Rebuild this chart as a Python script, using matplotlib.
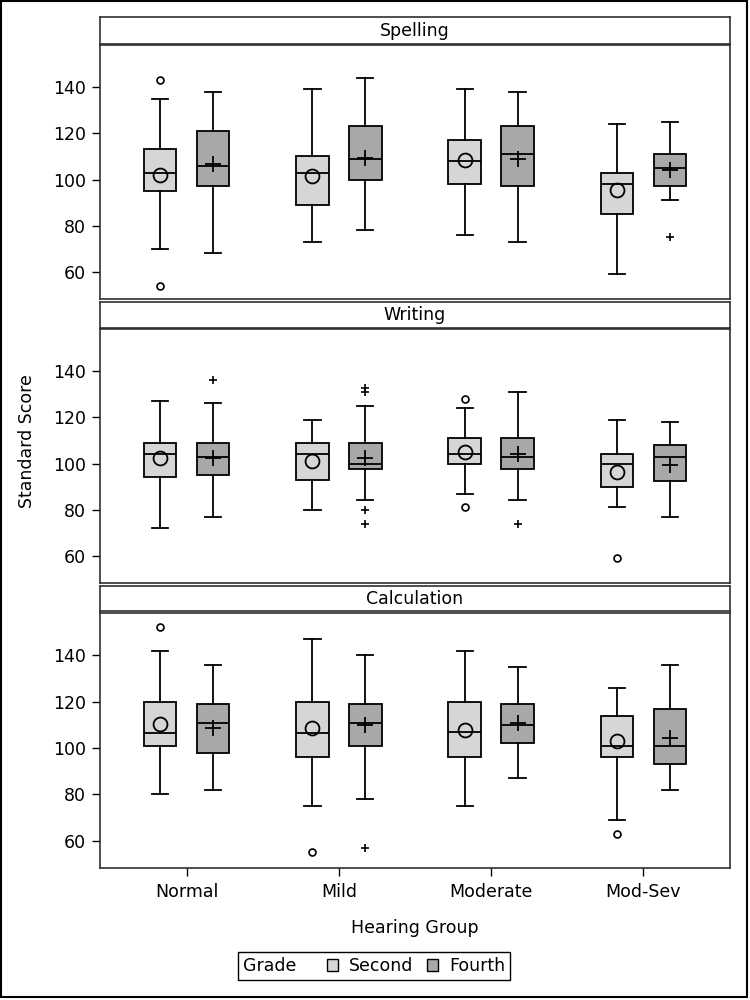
import matplotlib.pyplot as plt
from matplotlib.patches import Patch, Rectangle
from matplotlib.offsetbox import HPacker

groups = ["Normal", "Mild", "Moderate", "Mod-Sev"]
subjects = ["Spelling", "Writing", "Calculation"]

# box stats per group: whisker low, q1, median, q3, whisker high
spelling_second_box = [[70, 95, 103, 113, 135], [73, 89, 103, 110, 139],
                       [76, 98, 108, 117, 139], [59, 85, 98, 103, 124]]
spelling_second_mean = [102, 101.5, 108.5, 95.5]
spelling_second_out = [[54, 143], [], [], []]
spelling_fourth_box = [[68, 97, 106, 121, 138], [78, 100, 109, 123, 144],
                       [73, 97, 111, 123, 138], [91, 97, 105, 111, 125]]
spelling_fourth_mean = [106.5, 109.5, 109, 104]
spelling_fourth_out = [[], [], [], [75]]

writing_second_box = [[72, 94, 104, 109, 127], [80, 93, 104, 109, 119],
                      [87, 100, 104, 111, 124], [81, 90, 100, 104, 119]]
writing_second_mean = [102.2, 101, 105, 96.5]
writing_second_out = [[], [], [81, 128], [59]]
writing_fourth_box = [[77, 95, 103, 109, 126], [84, 97.5, 100, 109, 125],
                      [84, 97.5, 103, 111, 131], [77, 92.5, 103, 108, 118]]
writing_fourth_mean = [102.5, 102.5, 104, 99.5]
writing_fourth_out = [[136], [74, 80, 131, 132.5], [74], []]

calc_second_box = [[80, 101, 106.5, 120, 142], [75, 96, 106.5, 120, 147],
                   [75, 96, 107, 120, 142], [69, 96, 101, 114, 126]]
calc_second_mean = [110.5, 108.7, 107.6, 103.2]
calc_second_out = [[152], [55], [], [63]]
calc_fourth_box = [[82, 98, 111, 119, 136], [78, 101, 111, 119, 140],
                   [87, 102, 110, 119, 135], [82, 93, 101, 117, 136]]
calc_fourth_mean = [108.7, 110, 111, 104.5]
calc_fourth_out = [[], [57], [], []]

panels = [
    (spelling_second_box, spelling_second_mean, spelling_second_out,
     spelling_fourth_box, spelling_fourth_mean, spelling_fourth_out),
    (writing_second_box, writing_second_mean, writing_second_out,
     writing_fourth_box, writing_fourth_mean, writing_fourth_out),
    (calc_second_box, calc_second_mean, calc_second_out,
     calc_fourth_box, calc_fourth_mean, calc_fourth_out),
]

second_color = "#d6d6d6"
fourth_color = "#a8a8a8"


def make_stats(box, mean, out):
    stats = []
    for b, m, o in zip(box, mean, out):
        stats.append(dict(whislo=b[0], q1=b[1], med=b[2], q3=b[3], whishi=b[4],
                          mean=m, fliers=o))
    return stats


def draw_boxes(ax, stats, pos, color, mean_marker, out_marker, mean_ms, out_ms):
    ax.bxp(stats, positions=pos, widths=0.213, patch_artist=True, showmeans=True,
           manage_ticks=False,
           boxprops=dict(facecolor=color, edgecolor="black", linewidth=1.3),
           whiskerprops=dict(color="black", linewidth=1.3),
           capprops=dict(color="black", linewidth=1.3),
           medianprops=dict(color="black", linewidth=1.3),
           meanprops=dict(marker=mean_marker, markerfacecolor="none",
                          markeredgecolor="black", markersize=mean_ms,
                          markeredgewidth=1.3),
           flierprops=dict(marker=out_marker, markerfacecolor="none",
                           markeredgecolor="black", markersize=out_ms,
                           markeredgewidth=1.2))


plt.rcParams["font.family"] = "DejaVu Sans"
fig = plt.figure(figsize=(7.5, 10), dpi=100)

left, width = 100 / 750, 630 / 750
# (header top, header bottom, plot top, plot bottom) in pixels
rows = [(17, 44, 45, 299), (302, 328, 329, 583), (586, 611, 613, 868)]
x = range(1, len(groups) + 1)
fs = 12.5

for i, (subj, row, data) in enumerate(zip(subjects, rows, panels)):
    ht, hb, pt, pb = row
    hax = fig.add_axes([left, 1 - hb / 1000, width, (hb - ht) / 1000])
    hax.set_xticks([])
    hax.set_yticks([])
    hax.text(0.5, 0.5, subj, ha="center", va="center", fontsize=fs,
             transform=hax.transAxes)
    for s in hax.spines.values():
        s.set_color("#303030")
        s.set_linewidth(1.2)

    ax = fig.add_axes([left, 1 - pb / 1000, width, (pb - pt) / 1000])
    sb, sm, so, fb, fm, fo = data
    draw_boxes(ax, make_stats(sb, sm, so), [p - 0.174 for p in x],
               second_color, "o", "o", 10, 5)
    draw_boxes(ax, make_stats(fb, fm, fo), [p + 0.174 for p in x],
               fourth_color, "+", "+", 11, 6)
    ax.set_xlim(0.43, 4.57)
    ax.set_ylim(48.3, 158.2)
    ax.set_yticks([60, 80, 100, 120, 140])
    ax.tick_params(axis="y", direction="out", length=6, width=1, labelsize=fs, pad=4)
    for s in ax.spines.values():
        s.set_color("#303030")
        s.set_linewidth(1.2)
    if i == len(subjects) - 1:
        ax.set_xticks(list(x))
        ax.set_xticklabels(groups)
        ax.tick_params(axis="x", direction="out", length=6, width=1, labelsize=fs, pad=5)
        ax.set_xlabel("Hearing Group", fontsize=fs, labelpad=13)
    else:
        ax.set_xticks([])

fig.text(27 / 750, 1 - 441 / 1000, "Standard Score", rotation=90,
         ha="center", va="center", fontsize=fs)

handles = [Patch(facecolor=second_color, edgecolor="black", linewidth=1, label="Second"),
           Patch(facecolor=fourth_color, edgecolor="black", linewidth=1, label="Fourth")]
leg = fig.legend(handles=handles, ncol=2, title="Grade", loc="center",
                 bbox_to_anchor=(0.4987, 0.034), fontsize=fs, title_fontsize=fs,
                 handlelength=0.65, handleheight=0.65, handletextpad=0.6,
                 columnspacing=0.8, borderpad=0.3, fancybox=False,
                 edgecolor="black", framealpha=1)
leg.get_frame().set_linewidth(1.0)
# put the legend title to the left of the entries, SAS style
old_box = leg._legend_box
leg._legend_box = HPacker(pad=old_box.pad, sep=22, align="baseline",
                          children=[leg._legend_title_box, leg._legend_handle_box])
leg._legend_box.set_figure(fig)
leg._legend_box.set_offset(leg._findoffset)

fig.add_artist(Rectangle((0.0013, 0.0033), 0.9943, 0.9957, transform=fig.transFigure,
                         fill=False, edgecolor="black", linewidth=1.5))

fig.savefig("out.png", dpi=100)
